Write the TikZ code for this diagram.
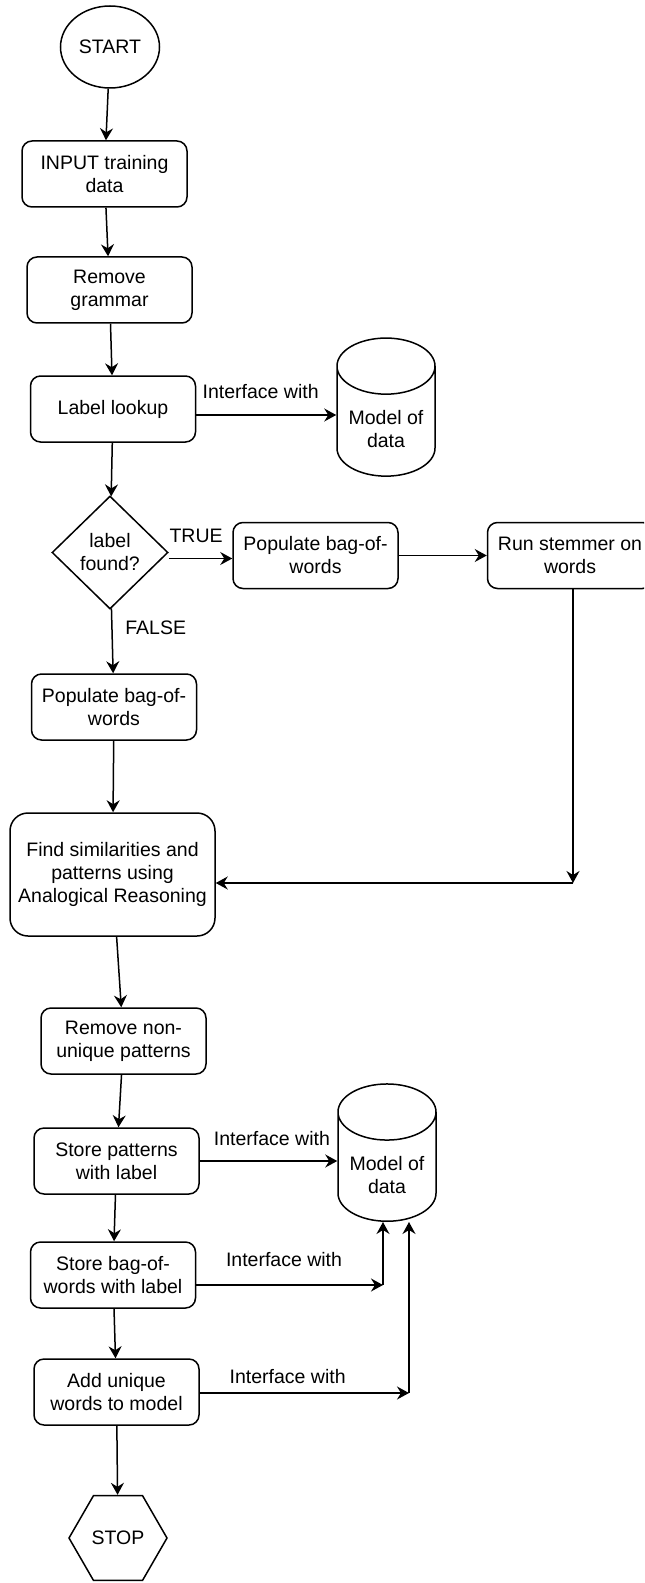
\documentclass[tikz,border=0pt]{standalone}
\usepackage{fontspec}
\setmainfont{Liberation Sans}
\usetikzlibrary{shapes.geometric,arrows.meta}

\begin{document}
\begin{tikzpicture}[x=0.5pt, y=-0.5pt, % coordinates in pixels
  every node/.style={font=\fontsize{9.75}{11.5}\selectfont, align=center},
  stepbox/.style={draw, line width=0.75pt, rounded corners=5pt, inner sep=0pt,
    minimum width=82.5pt, minimum height=33pt},
  store/.style={draw, line width=0.75pt, cylinder, shape border rotate=90,
    aspect=0.75, inner sep=0pt, minimum width=49pt, minimum height=66pt},
  flow/.style={line width=0.75pt, -{Stealth[length=6pt, width=6.5pt, inset=2pt]}}]
  \useasboundingbox (0,0) rectangle (644,1583);
  \clip (0,0) rectangle (644,1583);

  % Start and first steps
  \node[draw, ellipse, line width=0.75pt, minimum width=49.5pt, minimum height=41pt, inner sep=0pt]
    (start) at (110,47) {START};
  \node[stepbox] (input) at (104.5,174) {INPUT training\\data};
  \node[stepbox] (grammar) at (109.5,290) {Remove\\grammar};
  \node[stepbox] (lookup) at (113,409) {Label lookup};
  \node[store] (model1) at (386,421.5) {\rule{0pt}{15pt}Model of\\data}; % strut pushes text down

  % Decision
  \node[draw, diamond, line width=0.75pt, inner sep=0pt, minimum width=58pt, minimum height=56.5pt]
    (found) at (110,552.5) {label\\found?};
  \node[stepbox] (bagtrue) at (315.5,555.5) {Populate bag-of-\\words};
  \node[stepbox] (stemmer) at (570,555.5) {Run stemmer on\\words};
  \node[stepbox] (bagfalse) at (114,707) {Populate bag-of-\\words};
  \coordinate (join) at (573,883);

  % Pattern steps
  \node[stepbox, rounded corners=9pt, minimum width=102.5pt, minimum height=61.5pt]
    (similar) at (112.5,874.5) {Find similarities and\\patterns using\\Analogical Reasoning};
  \node[stepbox] (unique) at (123.5,1041) {Remove non-\\unique patterns};
  \node[stepbox] (storepat) at (116.5,1161) {Store patterns\\with label};
  \node[store] (model2) at (387,1167) {\rule{0pt}{14.6pt}Model of\\data};
  \node[stepbox] (storebag) at (113,1275) {Store bag-of-\\words with label};
  \node[stepbox] (addwords) at (116.5,1392) {Add unique\\words to model};
  \node[draw, regular polygon, regular polygon sides=6, line width=0.75pt, inner sep=0pt, minimum size=49pt]
    (stop) at (118,1538) {STOP};
  \coordinate (bend1) at (383,1285);
  \coordinate (bend2) at (409,1393);

  % Connectors
  \draw[flow] (start) -- (input);
  \draw[flow] (input) -- (grammar);
  \draw[flow] (grammar) -- (lookup);
  \draw[flow] ([yshift=-3pt]lookup.east) -- ([yshift=-3pt]lookup.east -| model1.west)
    node[pos=0.46, above=4.2pt] {Interface with};
  \draw[flow] (lookup) -- (found);
  \draw[flow] ([yshift=-3pt]found.east) -- ([yshift=-3pt]found.east -| bagtrue.west)
    node[pos=0.43, above=4.2pt] {TRUE};
  \draw[flow] (bagtrue) -- (stemmer);
  \draw[flow] (found) -- (bagfalse) node[pos=0.3, right=3pt] {FALSE};
  \draw[flow] (stemmer.south -| join) -- (join);
  \draw[flow] (join) -- (join -| similar.east);
  \draw[flow] (bagfalse) -- (similar);
  \draw[flow] (similar) -- (unique);
  \draw[flow] (unique) -- (storepat);
  \draw[flow] (storepat.east) -- (storepat.east -| model2.west)
    node[pos=0.525, above=3.8pt] {Interface with};
  \draw[flow] (storepat) -- (storebag);
  \draw[flow] (storebag.east |- bend1) -- (bend1)
    node[pos=0.47, above=5.7pt] {Interface with};
  \draw[flow] (bend1) -- (bend1 |- model2.south);
  \draw[flow] (storebag) -- (addwords);
  \draw[flow] (addwords.east |- bend2) -- (bend2)
    node[pos=0.42, above=1.2pt] {Interface with};
  \draw[flow] (bend2) -- (bend2 |- model2.south);
  \draw[flow] (addwords) -- (stop);
\end{tikzpicture}
\end{document}
